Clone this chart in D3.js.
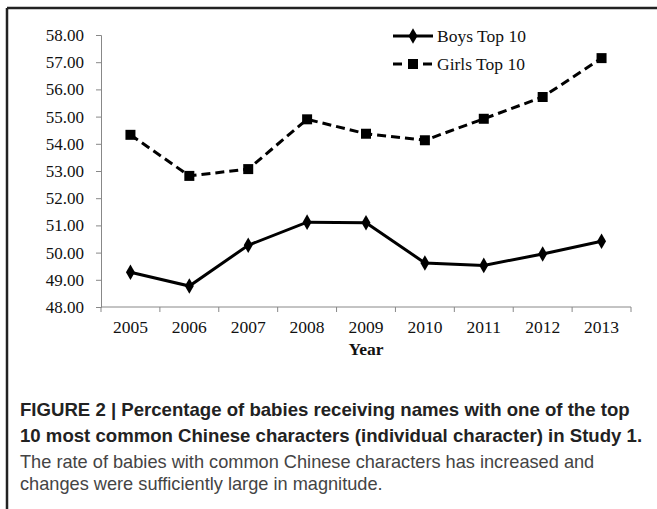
<!DOCTYPE html>
<html><head><meta charset="utf-8">
<script src="https://cdn.jsdelivr.net/npm/d3@7"></script>
<style>html,body{margin:0;padding:0;background:#fff;}svg{display:block;}</style>
</head><body>
<script>
const years = ["2005","2006","2007","2008","2009","2010","2011","2012","2013"];
const boys  = [49.28, 48.77, 50.27, 51.12, 51.10, 49.62, 49.53, 49.95, 50.42];
const girls = [54.33, 52.82, 53.07, 54.90, 54.37, 54.13, 54.92, 55.72, 57.15];
const yTicks = [48,49,50,51,52,53,54,55,56,57,58];
const seriesNames = ["Boys Top 10", "Girls Top 10"];
const xTitle = "Year";
const captionBold = ["FIGURE 2 | Percentage of babies receiving names with one of the top",
                     "10 most common Chinese characters (individual character) in Study 1."];
const captionBody = ["The rate of babies with common Chinese characters has increased and",
                     "changes were sufficiently large in magnitude."];

const W = 657, H = 509;
const svg = d3.select("body").append("svg").attr("width", W).attr("height", H);

// frame
svg.append("line").attr("x1",7).attr("x2",W).attr("y1",8).attr("y2",8).attr("stroke","#222").attr("stroke-width",2.5);
svg.append("line").attr("x1",7).attr("x2",7).attr("y1",8).attr("y2",H).attr("stroke","#222").attr("stroke-width",2.5);

const x = d3.scaleBand().domain(years).range([101, 631]);
const y = d3.scaleLinear().domain([48, 58]).range([307, 35]);
const serif = "'Liberation Serif', 'Times New Roman', serif";

// y axis
const gy = svg.append("g").attr("transform","translate(101,0)")
  .call(d3.axisLeft(y).tickValues(yTicks).tickFormat(d3.format(".2f")).tickSize(5).tickPadding(12));
gy.selectAll("text").attr("font-family", serif).attr("font-size", 17).attr("fill","#111");
gy.selectAll("line, path").attr("stroke","#888");

// x axis
const gx = svg.append("g").attr("transform","translate(0,307)")
  .call(d3.axisBottom(x).tickSize(0).tickPadding(14));
gx.selectAll("text").attr("font-family", serif).attr("font-size", 17.5).attr("fill","#111");
gx.select("path").attr("stroke","#888").attr("d", `M101,0H631`);
// boundary ticks between categories
const bounds = years.map(d => x(d) + x.bandwidth()).concat([x(years[0])]);
gx.selectAll(".bt").data(bounds).enter().append("line")
  .attr("x1", d=>d).attr("x2", d=>d).attr("y1",0).attr("y2",5).attr("stroke","#888");

svg.append("text").attr("x", 366).attr("y", 355).attr("text-anchor","middle")
  .attr("font-family", serif).attr("font-weight","bold").attr("font-size",17.5).attr("fill","#111").text(xTitle);

const cx = d => x(d) + x.bandwidth()/2;
const line = d3.line().x((d,i)=>cx(years[i])).y(d=>y(d));

svg.append("path").datum(girls).attr("d", line).attr("fill","none").attr("stroke","#000")
  .attr("stroke-width",3).attr("stroke-dasharray","9,5");
svg.append("path").datum(boys).attr("d", line).attr("fill","none").attr("stroke","#000")
  .attr("stroke-width",3);

const sq = d3.symbol().type(d3.symbolSquare).size(100);
const dm = d3.symbol().type(d3.symbolDiamond).size(70);
svg.selectAll(".g").data(girls).enter().append("path")
  .attr("d", sq).attr("transform",(d,i)=>`translate(${cx(years[i])},${y(d)})`).attr("fill","#000");
svg.selectAll(".b").data(boys).enter().append("path")
  .attr("d", dm).attr("transform",(d,i)=>`translate(${cx(years[i])},${y(d)})`).attr("fill","#000");

// legend
const lg = svg.append("g");
lg.append("line").attr("x1",393).attr("x2",433).attr("y1",36).attr("y2",36).attr("stroke","#000").attr("stroke-width",3);
lg.append("path").attr("d",dm).attr("transform","translate(413,36)").attr("fill","#000");
lg.append("line").attr("x1",393).attr("x2",433).attr("y1",64).attr("y2",64).attr("stroke","#000").attr("stroke-width",3).attr("stroke-dasharray","9,6");
lg.append("path").attr("d",sq).attr("transform","translate(413,64)").attr("fill","#000");
lg.selectAll("text").data(seriesNames).enter().append("text")
  .attr("x",437).attr("y",(d,i)=>36+28*i+6).attr("font-family",serif).attr("font-size",17.5).attr("fill","#111").text(d=>d);

// caption
const sans = "'Liberation Sans', Arial, Helvetica, sans-serif";
svg.selectAll(".cb").data(captionBold).enter().append("text")
  .attr("x",20).attr("y",(d,i)=>416+26*i).attr("font-family",sans).attr("font-weight","bold")
  .attr("font-size",18.6).attr("fill","#222").text(d=>d);
svg.selectAll(".cn").data(captionBody).enter().append("text")
  .attr("x",20).attr("y",(d,i)=>468+22*i).attr("font-family",sans)
  .attr("font-size",18.2).attr("fill","#444").text(d=>d);
</script>
</body></html>
